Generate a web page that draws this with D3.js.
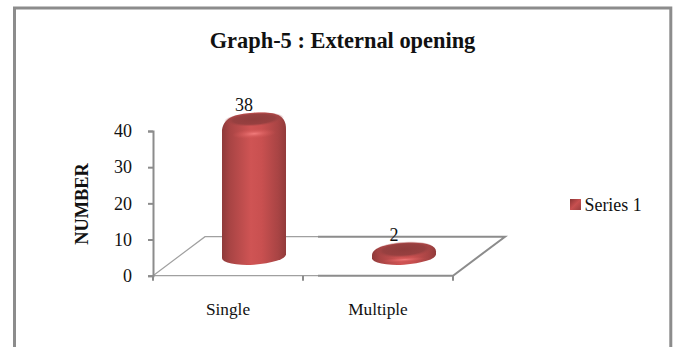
<!DOCTYPE html>
<html>
<head>
<meta charset="utf-8">
<style>
  html, body { margin: 0; padding: 0; background: #fff; }
  svg { display: block; }
  text { font-family: "Liberation Serif", "Times New Roman", serif; fill: #111; }
</style>
<script src="https://cdn.jsdelivr.net/npm/d3@7/dist/d3.min.js"></script>
</head>
<body>
<svg id="chart" width="675" height="347"></svg>
<script>
const categories = ["Single", "Multiple"];
const seriesName = "Series 1";
const seriesValues = [38, 2];
const yTicks = [0, 10, 20, 30, 40];
const titleText = "Graph-5 : External opening";
const yAxisTitle = "NUMBER";

const svg = d3.select("#chart");
const grey = "#8c8c8c";

// Plot box and oblique floor depth
const plot = { left: 153, right: 453, top: 131, bottom: 275.7 };
const depth = { dx: 52, dy: -39 };
const x = d3.scaleBand().domain(categories).range([plot.left, plot.right]);
const y = d3.scaleLinear().domain([0, 40]).range([plot.bottom, plot.top]);

// Gradients for the shaded cylinders
const defs = svg.append("defs");
const body = defs.append("linearGradient").attr("id", "cylBody");
[[0, "#8e3a3a"], [0.12, "#a84444"], [0.45, "#cf5454"], [0.62, "#c95050"], [0.88, "#a84444"], [1, "#923b3b"]]
  .forEach(([o, c]) => body.append("stop").attr("offset", o).attr("stop-color", c));
const glow = defs.append("radialGradient").attr("id", "cylGlow");
[[0, "#f27c7c", 1], [0.5, "#dc6262", 0.6], [1, "#cf5454", 0]]
  .forEach(([o, c, a]) => glow.append("stop").attr("offset", o).attr("stop-color", c).attr("stop-opacity", a));
const cap = defs.append("radialGradient").attr("id", "cylCap");
[[0, "#8f3c3c", 1], [0.7, "#974040", 1], [1, "#a84646", 0]]
  .forEach(([o, c, a]) => cap.append("stop").attr("offset", o).attr("stop-color", c).attr("stop-opacity", a));
const swatch = defs.append("linearGradient").attr("id", "keyFill")
  .attr("x1", 0).attr("y1", 0).attr("x2", 1).attr("y2", 1);
[[0, "#8a3434"], [0.5, "#c85050"], [1, "#9a3e3e"]]
  .forEach(([o, c]) => swatch.append("stop").attr("offset", o).attr("stop-color", c));

// Outer frame: open along the bottom edge
svg.append("path")
  .attr("d", "M14.5,347V8H670.8V347")
  .attr("fill", "none").attr("stroke", grey).attr("stroke-width", 3);

// Floor of the plot
const floor = svg.append("g").attr("fill", "none").attr("stroke", grey);
const backY = plot.bottom + depth.dy;
const splitX = 318;
floor.append("path").attr("stroke-width", 1.2).attr("stroke", "#a0a0a0")
  .attr("d", `M${plot.left},${plot.bottom}L${plot.left + depth.dx},${backY}H${splitX}`);
floor.append("path").attr("stroke-width", 2)
  .attr("d", `M${splitX},${backY}H${plot.right + depth.dx}L${plot.right},${plot.bottom}H${splitX}`);
floor.append("path").attr("stroke-width", 1.2).attr("stroke", "#a0a0a0")
  .attr("d", `M${splitX},${plot.bottom}H${plot.left}`);

// Axes
const yAxis = svg.append("g").attr("transform", `translate(${plot.left},0)`)
  .call(d3.axisLeft(y).tickValues(yTicks).tickSize(5).tickPadding(16));
const xAxis = svg.append("g").attr("transform", `translate(0,${plot.bottom})`)
  .call(d3.axisBottom(x).tickSize(0).tickPadding(27));
[yAxis, xAxis].forEach(a => {
  a.selectAll(".domain").attr("stroke", grey).attr("stroke-width", 2);
  a.selectAll(".tick line").attr("stroke", grey).attr("stroke-width", 2);
});
xAxis.select(".domain").attr("stroke", "none");
yAxis.selectAll("text").attr("font-size", 18).style("font-family", "Liberation Serif").attr("fill", "#111");
xAxis.selectAll("text").attr("font-size", 17.3).style("font-family", "Liberation Serif").attr("fill", "#111");

// Ticks on the category boundaries
xAxis.selectAll(".boundary")
  .data([plot.left, plot.left + x.bandwidth(), plot.right])
  .join("line").attr("class", "boundary")
  .attr("x1", d => d).attr("x2", d => d).attr("y1", 0).attr("y2", 5)
  .attr("stroke", grey).attr("stroke-width", 2);

// Cylinders
const rx = 32, ryTop = 6, ryBase = 8.5;
const baseY = plot.bottom + depth.dy / 2;

function silhouette(h) {
  const shoulder = Math.min(h * 0.6, 12);
  return `M${-rx},0V${-h + shoulder}` +
    `C${-rx},${-h - ryTop * 0.4} ${-rx * 0.65},${-h - ryTop} 0,${-h - ryTop}` +
    `C${rx * 0.65},${-h - ryTop} ${rx},${-h - ryTop * 0.4} ${rx},${-h + shoulder}` +
    `V0A${rx},${ryBase} 0 0 1 ${-rx},0Z`;
}

const isTall = d => (y(0) - y(d.v)) > 30;
const bars = svg.append("g").selectAll("g")
  .data(categories.map((c, i) => ({ c, v: seriesValues[i] })))
  .join("g")
  .attr("transform", d => `translate(${x(d.c) + x.bandwidth() / 2 + depth.dx / 2},${baseY}) skewY(-3.5)`);

bars.append("path").attr("d", d => silhouette(y(0) - y(d.v))).attr("fill", "url(#cylBody)");
bars.append("ellipse")
  .attr("cx", 0).attr("cy", d => isTall(d) ? y(d.v) - y(0) + 15 : 3.5)
  .attr("rx", 22).attr("ry", d => isTall(d) ? 5 : 2.5).attr("fill", "url(#cylGlow)");
bars.append("ellipse")
  .attr("cx", 0).attr("cy", d => y(d.v) - y(0) + 0.5)
  .attr("rx", 30).attr("ry", d => isTall(d) ? 7 : 8)
  .attr("fill", "url(#cylCap)");

// Value labels
svg.append("g").selectAll("text")
  .data(categories.map((c, i) => ({ c, v: seriesValues[i] })))
  .join("text")
  .attr("x", d => x(d.c) + x.bandwidth() / 2 + depth.dx / 2 - 10)
  .attr("y", d => y(d.v) - 27)
  .attr("text-anchor", "middle").attr("font-size", 18)
  .text(d => d.v);

// Title, axis title, legend
svg.append("text").attr("x", 342.5).attr("y", 48)
  .attr("text-anchor", "middle").attr("font-size", 22.4).attr("font-weight", "bold")
  .text(titleText);
svg.append("text")
  .attr("transform", "translate(88,204) rotate(-90)")
  .attr("text-anchor", "middle").attr("font-size", 18.4).attr("font-weight", "bold")
  .text(yAxisTitle);
svg.append("rect").attr("x", 570).attr("y", 199).attr("width", 11).attr("height", 11)
  .attr("fill", "url(#keyFill)");
svg.append("text").attr("x", 584.5).attr("y", 210.5).attr("font-size", 17.9).text(seriesName);
</script>
</body>
</html>
